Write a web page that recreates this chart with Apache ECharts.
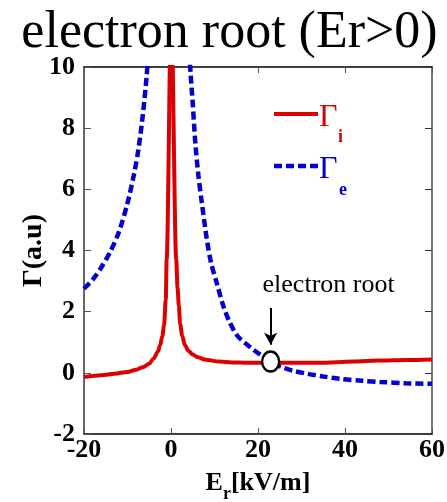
<!DOCTYPE html>
<html>
<head>
<meta charset="utf-8">
<script src="https://cdn.jsdelivr.net/npm/echarts@6/dist/echarts.min.js"></script>
<style>html,body{margin:0;padding:0;background:#fff}#c{width:447px;height:502px}</style>
</head>
<body>
<div id="c"></div>
<script>
// Γi (ion flux), solid red
const ionX = [-20,-16,-13,-10,-8,-6.5,-5,-4,-3,-2.5,-2,-1.6,-1.2,-1.0,0.05,1.2,1.5,1.8,2.1,2.6,3.2,4,5,6,8,11,14,17,22,28,34,42,48,54,60];
const ionY = [-0.14,-0.08,-0.03,0.03,0.1,0.18,0.3,0.47,0.7,0.9,1.2,1.55,2.4,3.7,12,3.7,2.8,2.2,1.6,1.2,0.9,0.72,0.6,0.52,0.43,0.37,0.34,0.33,0.33,0.33,0.33,0.37,0.4,0.42,0.44];
// Γe (electron flux), dashed blue (null = gap over the off-scale pole)
const eleX = [-20,-18,-16,-14,-12,-10,-8.5,-7.5,-6.5,-5.6,-5.2,null,4.2,4.5,5.0,5.6,6.3,7.1,8.2,9.2,10.5,12,13.5,15.2,17,19,21,23,25.2,28,31.3,35,39,44,48.2,54,60];
const eleY = [2.75,3.05,3.45,3.95,4.6,5.55,6.5,7.3,8.4,9.7,10.5,null,10.5,9.8,8.8,7.5,6.45,5.55,4.4,3.6,2.95,2.2,1.65,1.22,0.98,0.75,0.55,0.36,0.2,0.07,-0.03,-0.12,-0.2,-0.26,-0.3,-0.34,-0.36];
// electron root marker and arrow
const rootPoint = [22.9, 0.37];
const arrowFrom = [22.9, 2.12];
const arrowTo = [22.9, 0.92];
const xTicks = {min:-20, max:60, interval:20};
const yTicks = {min:-2, max:10, interval:2};
const xNameParts = ['E', 'r', '[kV/m]'];

const RED = '#dd0000', BLUE = '#0000d0';
const SERIF = 'Liberation Serif';
const ionData = ionX.map((x,i)=>[x, ionY[i]]);
const eleData = eleX.map((x,i)=> x===null ? [null,null] : [x, eleY[i]]);

const chart = echarts.init(document.getElementById('c'), null, {renderer:'canvas'});
const tickLbl = {fontFamily:SERIF, fontWeight:'bold', fontSize:26, color:'#000'};
chart.setOption({
  animation:false,
  backgroundColor:'#fff',
  grid:{left:84, right:15, top:67, bottom:68, containLabel:false, outerBoundsMode:'none'},
  xAxis:[
    {type:'value', position:'bottom', min:xTicks.min, max:xTicks.max, interval:xTicks.interval,
     axisLine:{onZero:false, lineStyle:{color:'#000', width:1.5}},
     axisTick:{inside:true, length:6, lineStyle:{color:'#555'}},
     axisLabel:Object.assign({margin:3}, tickLbl),
     splitLine:{show:false}},
    {type:'value', position:'top', min:xTicks.min, max:xTicks.max, interval:xTicks.interval,
     axisLine:{onZero:false, lineStyle:{color:'#000', width:1.5}},
     axisTick:{inside:true, length:6, lineStyle:{color:'#555'}},
     axisLabel:{show:false}, splitLine:{show:false}}
  ],
  yAxis:[
    {type:'value', position:'left', min:yTicks.min, max:yTicks.max, interval:yTicks.interval,
     axisLine:{show:true, onZero:false, lineStyle:{color:'#333', width:1.5}},
     axisTick:{show:true, inside:true, length:7, lineStyle:{color:'#555'}},
     axisLabel:Object.assign({margin:9}, tickLbl),
     splitLine:{show:false},
     name:'Γ(a.u)', nameLocation:'middle', nameRotate:90, nameGap:36, nameMoveOverlap:false,
     nameTextStyle:{fontFamily:SERIF, fontWeight:'bold', fontSize:28, color:'#000'}},
    {type:'value', position:'right', min:yTicks.min, max:yTicks.max, interval:yTicks.interval,
     axisLine:{show:true, onZero:false, lineStyle:{color:'#777', width:2}},
     axisTick:{show:true, inside:true, length:7, lineStyle:{color:'#333'}},
     axisLabel:{show:false}, splitLine:{show:false}}
  ],
  series:[
    {type:'line', name:'Γi', data:ionData, showSymbol:false, symbol:'none', smooth:0.3, smoothMonotone:'x',
     lineStyle:{color:RED, width:4}, clip:true, z:3},
    {type:'line', name:'Γe', data:eleData, showSymbol:false, symbol:'none', smooth:0.3, connectNulls:false,
     lineStyle:{color:BLUE, width:4.5, type:[8,4]}, clip:true, z:2},
    {type:'scatter', data:[rootPoint], symbol:'circle', symbolSize:[17,20],
     itemStyle:{color:'#ffffff', opacity:1, borderColor:'#000', borderWidth:2.5}, z:5,
     emphasis:{disabled:true},
     markLine:{silent:true, symbol:['none','arrow'], symbolSize:[10,12], label:{show:false},
       lineStyle:{color:'#000', width:2, type:'solid'},
       data:[[{coord:arrowFrom},{coord:arrowTo}]]}}
  ]
});

// x-axis name with a real subscript, laid out with measured widths
const ctx = document.createElement('canvas').getContext('2d');
const fBig = 'bold 26px "Liberation Serif"', fSub = 'bold 18px "Liberation Serif"';
ctx.font = fBig; const w0 = ctx.measureText(xNameParts[0]).width, w2 = ctx.measureText(xNameParts[2]).width;
ctx.font = fSub; const w1 = ctx.measureText(xNameParts[1]).width;
const [cx, by] = chart.convertToPixel({xAxisIndex:0, yAxisIndex:0}, [(xTicks.min+xTicks.max)/2, yTicks.min]);
const x0 = cx - (w0+w1+w2)/2;
const nameBase = by + 58;

const [ax, ay] = chart.convertToPixel({xAxisIndex:0, yAxisIndex:0}, arrowFrom);
chart.setOption({
  graphic:[
    {type:'text', x:229.5, y:7, style:{text:'electron root (Er>0)', font:'52px "Liberation Serif"', fill:'#000', align:'center', verticalAlign:'top'}},
    {type:'text', x:x0, y:nameBase-9, style:{text:xNameParts[0], font:fBig, fill:'#000', verticalAlign:'middle'}},
    {type:'text', x:x0+w0, y:nameBase+2, style:{text:xNameParts[1], font:fSub, fill:'#000', verticalAlign:'middle'}},
    {type:'text', x:x0+w0+w1, y:nameBase-9, style:{text:xNameParts[2], font:fBig, fill:'#000', verticalAlign:'middle'}},
    {type:'text', x:ax+58, y:ay-23, style:{text:'electron root', font:'26px "Liberation Serif"', fill:'#000', align:'center', verticalAlign:'middle'}},
    {type:'line', shape:{x1:274, y1:114, x2:318, y2:114}, style:{stroke:RED, lineWidth:4}},
    {type:'text', x:319, y:117.5, style:{text:'Γ', font:'32px "Liberation Serif"', fill:RED, verticalAlign:'middle'}},
    {type:'text', x:338, y:137, style:{text:'i', font:'bold 18px "Liberation Serif"', fill:RED, verticalAlign:'middle'}},
    {type:'line', shape:{x1:274, y1:166, x2:318, y2:166}, style:{stroke:BLUE, lineWidth:4.5, lineDash:[8,4]}},
    {type:'text', x:319, y:170, style:{text:'Γ', font:'32px "Liberation Serif"', fill:BLUE, verticalAlign:'middle'}},
    {type:'text', x:339, y:190, style:{text:'e', font:'bold 18px "Liberation Serif"', fill:BLUE, verticalAlign:'middle'}}
  ]
});
</script>
</body>
</html>
